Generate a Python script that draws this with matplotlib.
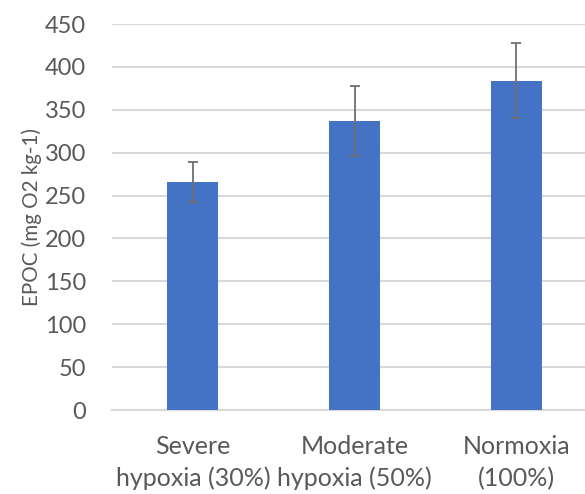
import matplotlib
matplotlib.use("Agg")
import matplotlib.pyplot as plt

# data
categories = ["Severe\nhypoxia (30%)", "Moderate\nhypoxia (50%)", "Normoxia\n(100%)"]
epoc = [266, 337, 384]
epoc_err = [23.5, 41, 43.7]
yticks = [0, 50, 100, 150, 200, 250, 300, 350, 400, 450]

plt.rcParams['font.family'] = ['Lato', 'DejaVu Sans']
txt_col = '#595959'

fig = plt.figure(figsize=(5.85, 4.94), dpi=100)
ax = fig.add_axes([0.1915, 0.17, 0.829, 0.7814])

x = range(len(categories))
ax.bar(x, epoc, width=0.316, color='#4472C4', zorder=3)
ax.errorbar(x, epoc, yerr=epoc_err, fmt='none', ecolor='#707070',
            elinewidth=1.3, capsize=3.5, capthick=1.3, zorder=4)

ax.set_xlim(-0.5, 2.5)
ax.set_ylim(0, 450)
ax.set_yticks(yticks)
ax.set_xticks(list(x))
ax.set_xticklabels(categories, fontsize=18, color=txt_col, linespacing=1.45)
ax.tick_params(axis='y', labelsize=17, labelcolor=txt_col, length=0, pad=18.5)
ax.tick_params(axis='x', length=0, pad=18)

ax.grid(axis='y', color='#D9D9D9', linewidth=1.5, zorder=0)
for s in ['top', 'right', 'left']:
    ax.spines[s].set_visible(False)
ax.spines['bottom'].set_color('#D9D9D9')
ax.spines['bottom'].set_linewidth(1.5)

ax.set_ylabel('EPOC (mg O2 kg-1)', fontsize=14.8, color=txt_col, labelpad=2)

fig.savefig('out.png', dpi=100)
